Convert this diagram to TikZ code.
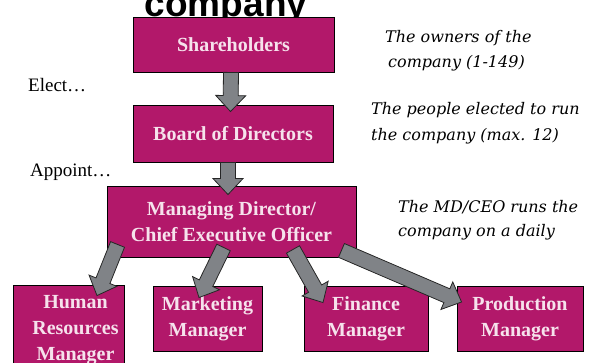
\documentclass[tikz,border=0pt]{standalone}
\usepackage{fontspec}
\setmainfont{Liberation Serif}
\setsansfont{Liberation Sans}
\newfontfamily\notefont{DejaVu Serif}
\usetikzlibrary{calc}

\definecolor{boxfill}{RGB}{178,24,106}
\definecolor{boxtext}{RGB}{246,226,236}
\definecolor{arrowfill}{RGB}{128,131,135}

\tikzset{
	orgbox/.style={draw=black, line width=0.9pt, fill=boxfill, text=boxtext, align=center, inner sep=0pt, font=\fontsize{20}{26}\selectfont\bfseries},
	sidenote/.style={anchor=base west, inner sep=0pt, font=\fontsize{19}{19}\selectfont},
	remark/.style={anchor=base west, inner sep=0pt, font=\notefont\itshape\fontsize{16}{16}\selectfont},
	blockarrow/.style={draw=black!85, line width=0.8pt, fill=arrowfill, line join=miter}
}

\begin{document}
\begin{tikzpicture}[x=1pt,y=-1pt]
\pgfmathsetlengthmacro{\shaftw}{7.5pt}
\pgfmathsetlengthmacro{\headw}{15pt}
\pgfmathsetlengthmacro{\headl}{16pt}
\useasboundingbox (0,0) rectangle (592,363);

\node[anchor=base, inner sep=0pt, font=\sffamily\bfseries\fontsize{37}{37}\selectfont] (title) at (226,17) {company};

\node[orgbox, minimum width=201pt, minimum height=55pt] (share) at (233.5,44.5) {Shareholders};
\node[orgbox, minimum width=200pt, minimum height=57pt] (board) at (233,133.5) {Board of Directors};
\node[orgbox, minimum width=249pt, minimum height=71pt] (md) at (231.5,221.5) {Managing Director/\\Chief Executive Officer};
\node[orgbox, minimum width=111pt, minimum height=90pt] (hr) at (68.5,330) {\hspace*{14pt}Human\\\hspace*{14pt}Resources\\\hspace*{14pt}Manager};
\node[orgbox, minimum width=109pt, minimum height=65pt] (mkt) at (207.5,318.5) {Marketing\\Manager};
\node[orgbox, minimum width=124pt, minimum height=65pt] (fin) at (366,318.5) {Finance\\Manager};
\node[orgbox, minimum width=126pt, minimum height=65pt] (prod) at (520,318.5) {Production\\Manager};

\node[sidenote] (elect) at (28,92) {Elect…};
\node[sidenote] (appoint) at (30,177) {Appoint…};

\foreach \txt/\px/\py [count=\k] in {{The owners of the}/385/43, {company (1-149)}/388/68,
	{The people elected to run}/371/115, {the company (max. 12)}/371/141,
	{The MD/CEO runs the}/398/213, {company on a daily}/398/237}{
	\node[remark] (note\k) at (\px,\py) {\txt};
}

% tails and tips of the block arrows
\coordinate (t1) at ($(share.south)+(-2.5,0)$);
\coordinate (h1) at ($(board.north)+(-2.5,7)$);
\coordinate (t2) at ($(board.south)+(-5,0)$);
\coordinate (h2) at ($(md.north)+(-3.5,9)$);
\coordinate (t3) at ($(md.south west)+(11,-13)$);
\coordinate (h3) at ($(hr.north)+(28.5,11)$);
\coordinate (t4) at ($(md.south west)+(117,-10)$);
\coordinate (h4) at ($(mkt.north)+(-8.5,12)$);
\coordinate (t5) at ($(md.south)+(61.5,-8)$);
\coordinate (h5) at ($(fin.north)+(-43,17)$);
\coordinate (t6) at ($(md.south east)+(-15,-7)$);
\coordinate (h6) at ($(prod.west)+(5,-16.5)$);

\foreach \s/\t in {t1/h1, t2/h2, t3/h3, t4/h4, t5/h5, t6/h6}{
	\coordinate (b) at ($(\t)!\headl!(\s)$);
	\draw[blockarrow] ($(\s)!\shaftw!90:(\t)$) -- ($(b)!\shaftw!-90:(\s)$) -- ($(b)!\headw!-90:(\s)$) -- (\t)
		-- ($(b)!\headw!90:(\s)$) -- ($(b)!\shaftw!90:(\s)$) -- ($(\s)!\shaftw!-90:(\t)$) -- cycle;
}

\end{tikzpicture}
\end{document}
